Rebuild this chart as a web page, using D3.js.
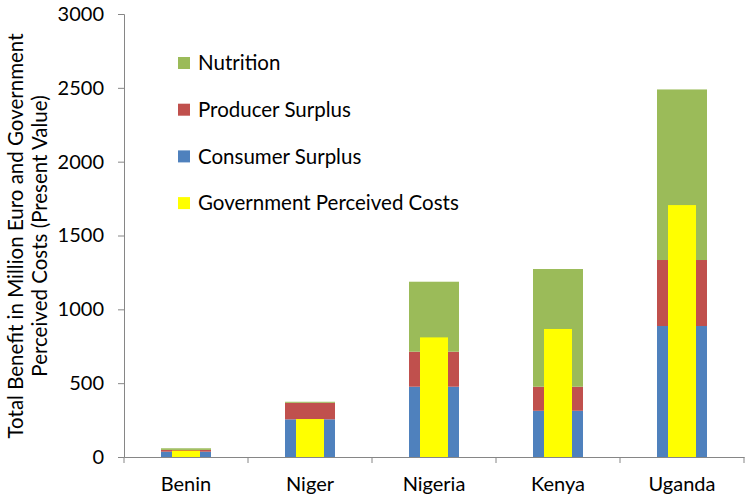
<!DOCTYPE html>
<html>
<head>
<meta charset="utf-8">
<script src="https://cdn.jsdelivr.net/npm/d3@7"></script>
<style>
  body { margin: 0; background: #fff; }
  text { font-family: Lato, "Open Sans", sans-serif; fill: #000; }
</style>
</head>
<body>
<svg id="chart" width="750" height="503"></svg>
<script>
// countries on the x axis
const countries = ['Benin', 'Niger', 'Nigeria', 'Kenya', 'Uganda'];
// stacked benefit parts (million euro)
const consumerSurplus = [36, 255, 476, 313, 887];
const producerSurplus = [12, 112, 237, 163, 447];
const nutrition = [11, 7, 474, 797, 1155];
// overlay bar
const govCosts = [43, 257, 810, 867, 1706];
const yTicks = [0, 500, 1000, 1500, 2000, 2500, 3000];

const seriesNames = ['Consumer Surplus', 'Producer Surplus', 'Nutrition'];
const colors = {
  'Consumer Surplus': '#4f81bd',
  'Producer Surplus': '#c0504d',
  'Nutrition': '#9bbb59',
  'Government Perceived Costs': '#ffff00'
};

const margin = {top: 14, right: 6, bottom: 46, left: 124};
const width = 750 - margin.left - margin.right;
const height = 503 - margin.top - margin.bottom;

const svg = d3.select('#chart');
const chart = svg.append('g')
  .attr('transform', `translate(${margin.left}, ${margin.top})`);

/******** scales ********/
const x = d3.scaleBand().domain(countries).range([0, width]);
const y = d3.scaleLinear().domain([0, 3000]).range([height, 0]);

/******** stacked data ********/
const rows = countries.map((c, i) => ({
  country: c,
  'Consumer Surplus': consumerSurplus[i],
  'Producer Surplus': producerSurplus[i],
  'Nutrition': nutrition[i],
  gov: govCosts[i]
}));
const stack = d3.stack().keys(seriesNames)(rows);

const barW = 50, govW = 28;

chart.selectAll('g.layer')
  .data(stack)
  .join('g')
  .attr('class', 'layer')
  .attr('fill', d => colors[d.key])
  .selectAll('rect')
  .data(d => d)
  .join('rect')
  .attr('x', d => x(d.data.country) + x.bandwidth() / 2 - barW / 2)
  .attr('width', barW)
  .attr('y', d => y(d[1]))
  .attr('height', d => y(d[0]) - y(d[1]));

chart.selectAll('rect.gov')
  .data(rows)
  .join('rect')
  .attr('class', 'gov')
  .attr('fill', colors['Government Perceived Costs'])
  .attr('x', d => x(d.country) + x.bandwidth() / 2 - govW / 2)
  .attr('width', govW)
  .attr('y', d => y(d.gov))
  .attr('height', d => y(0) - y(d.gov));

/******** axes ********/
const yAxis = chart.append('g')
  .call(d3.axisLeft(y).tickValues(yTicks).tickFormat(d3.format('d'))
    .tickSize(6).tickPadding(14));
yAxis.selectAll('text').style('font-size', '20px');

const xAxis = chart.append('g')
  .attr('transform', `translate(0, ${height})`)
  .call(d3.axisBottom(x).tickSize(0).tickPadding(20));
xAxis.selectAll('text').style('font-size', '20px');
// category divider ticks
xAxis.selectAll('line.div')
  .data(d3.range(countries.length + 1))
  .join('line')
  .attr('class', 'div')
  .attr('x1', i => i * x.step())
  .attr('x2', i => i * x.step())
  .attr('y1', 0)
  .attr('y2', 6);

svg.selectAll('.domain, .tick line, line.div').attr('stroke', '#868686');

/******** y label ********/
const yLabel = svg.append('text')
  .attr('transform', 'translate(23, 236) rotate(-90)')
  .attr('text-anchor', 'middle')
  .style('font-size', '20.5px');
yLabel.append('tspan').attr('x', 0).attr('dy', 0)
  .text('Total Benefit in Million Euro and Government');
yLabel.append('tspan').attr('x', 0).attr('dy', 24)
  .text('Perceived Costs (Present Value)');

/******** legend ********/
const legendItems = ['Nutrition', 'Producer Surplus', 'Consumer Surplus', 'Government Perceived Costs'];
const legend = svg.append('g').attr('transform', 'translate(178, 63)');
const li = legend.selectAll('g')
  .data(legendItems)
  .join('g')
  .attr('transform', (d, i) => `translate(0, ${i * 46.7})`);
li.append('rect')
  .attr('x', 0).attr('y', -6)
  .attr('width', 12).attr('height', 12)
  .attr('fill', d => colors[d]);
li.append('text')
  .attr('x', 20).attr('y', 0)
  .attr('dy', '0.35em')
  .style('font-size', '20.5px')
  .text(d => d);
</script>
</body>
</html>
